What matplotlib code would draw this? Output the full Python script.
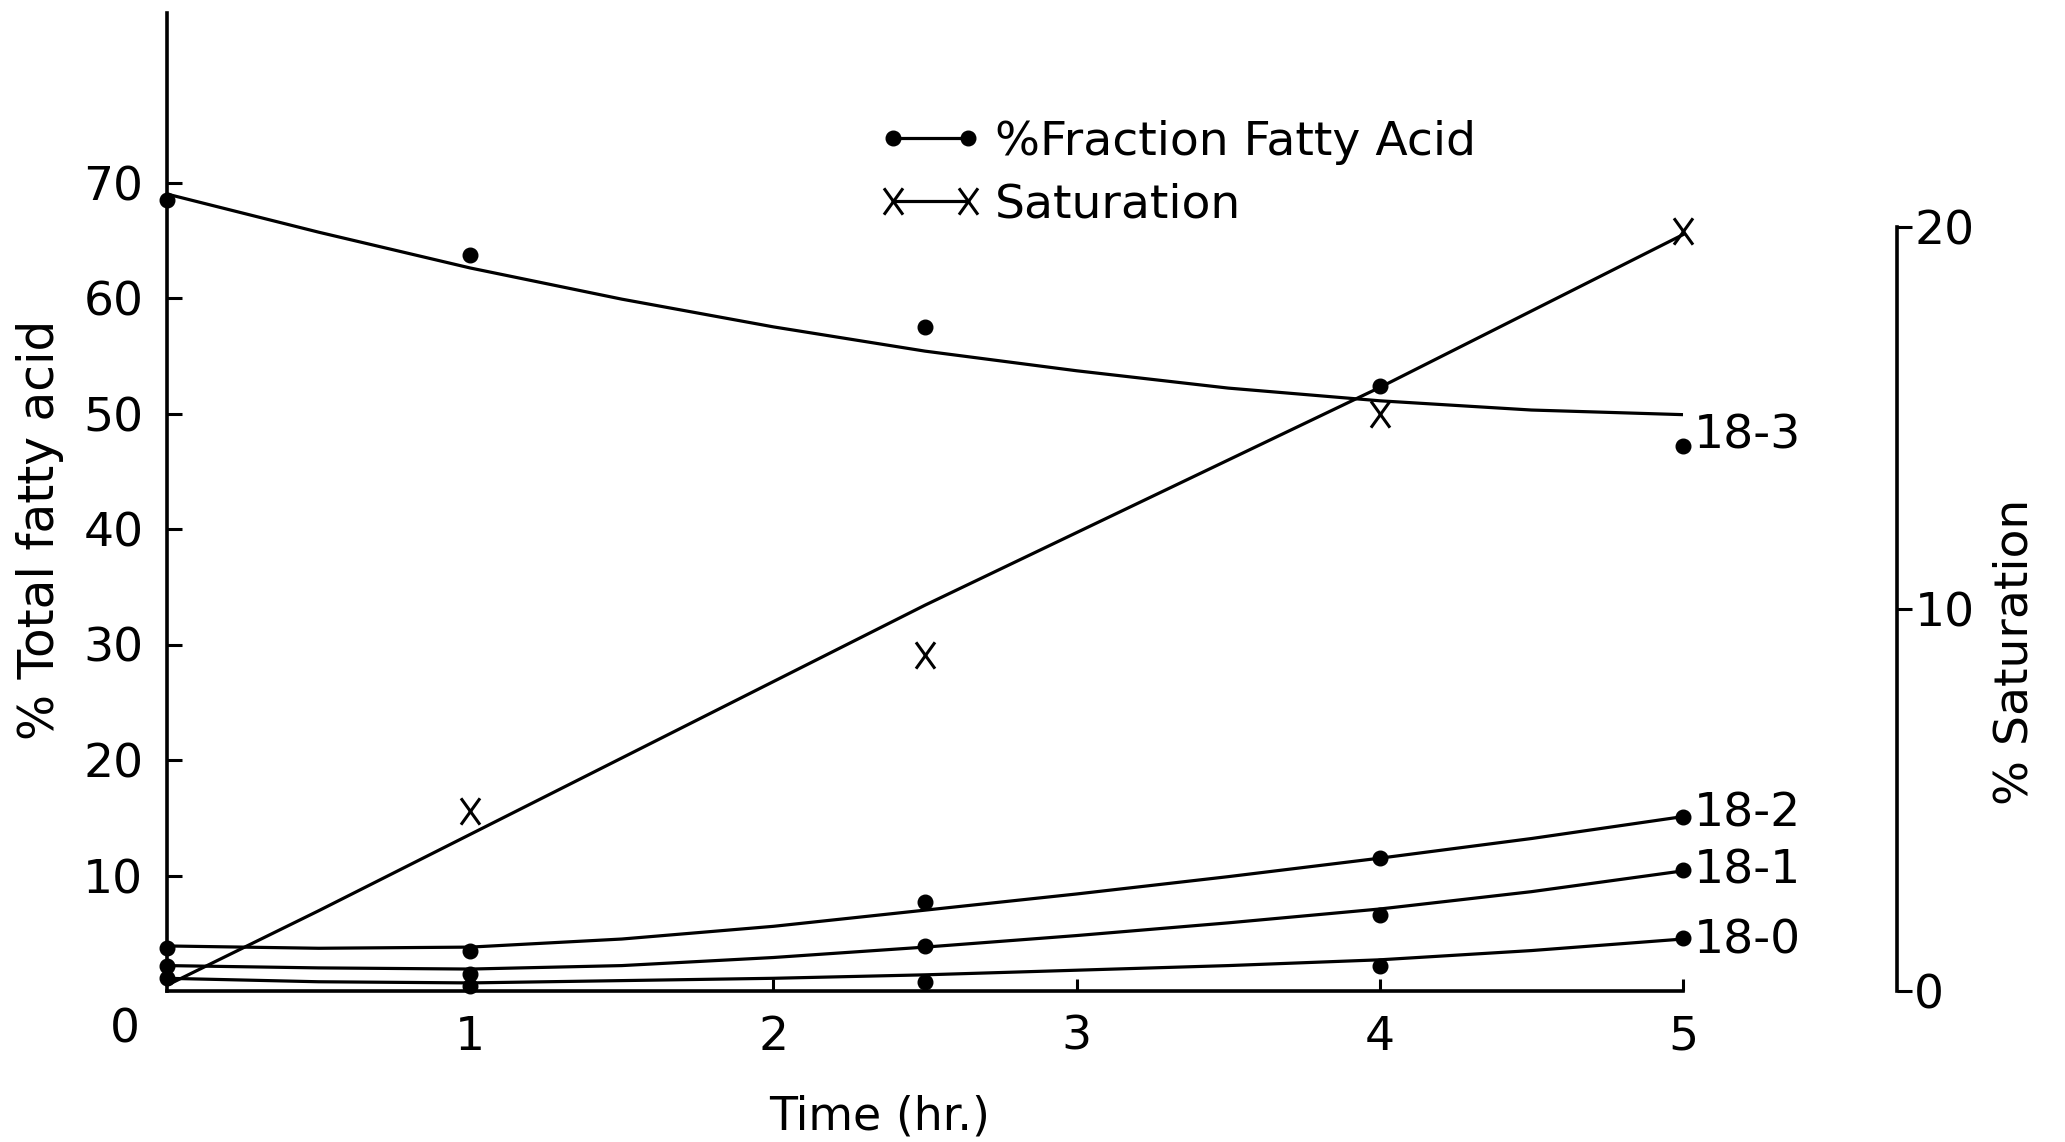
import matplotlib
matplotlib.use("Agg")
import matplotlib.pyplot as plt
from matplotlib.lines import Line2D
from matplotlib.path import Path

# Measured fatty acid fractions (% of total) at each sampling time (hr)
time_points = [0, 1, 2.5, 4, 5]
frac_183 = [68.5, 63.7, 57.5, 52.4, 47.2]
frac_182 = [3.7, 3.5, 7.7, 11.5, 15.1]
frac_181 = [2.2, 1.5, 3.9, 6.6, 10.5]
frac_180 = [1.1, 0.4, 0.8, 2.2, 4.6]

# Measured saturation (%)
sat_times = [1, 2.5, 4, 5]
saturation = [4.7, 8.8, 15.1, 19.9]

curve_times = [0, 0.5, 1, 1.5, 2, 2.5, 3, 3.5, 4, 4.5, 5]
curve_183 = [69.0, 65.7, 62.6, 59.9, 57.5, 55.4, 53.7, 52.2, 51.1, 50.3, 49.9]
curve_182 = [3.9, 3.7, 3.8, 4.5, 5.6, 7.0, 8.4, 9.9, 11.5, 13.2, 15.1]
curve_181 = [2.2, 2.0, 1.9, 2.2, 2.9, 3.8, 4.8, 5.9, 7.1, 8.6, 10.4]
curve_180 = [1.1, 0.8, 0.7, 0.9, 1.1, 1.4, 1.8, 2.2, 2.7, 3.5, 4.5]
curve_sat = [0.15, 2.1, 4.1, 6.1, 8.1, 10.1, 12.0, 13.9, 15.8, 17.8, 19.8]

series_labels = ["18-3", "18-2", "18-1", "18-0"]
x_ticks = [1, 2, 3, 4, 5]
left_ticks = [10, 20, 30, 40, 50, 60, 70]
right_ticks = [0, 10, 20]

plt.rcParams["font.family"] = "DejaVu Sans"
plt.rcParams["font.size"] = 34

W, H = 2065, 1142
fig = plt.figure(figsize=(W / 100, H / 100), dpi=100)
# axes box in pixels: left 167, right 1897, bottom 991, top 13
ax = fig.add_axes([167 / W, (H - 991) / H, (1897 - 167) / W, (991 - 13) / H])
ax2 = ax.twinx()

lw_curve = 2.3
lw_axis = 2.6

# fitted curves and measured points for each fraction
fractions = [frac_183, frac_182, frac_181, frac_180]
curves = [curve_183, curve_182, curve_181, curve_180]
for curve in curves:
    ax.plot(curve_times, curve, color="black", lw=lw_curve, solid_capstyle="butt",
            solid_joinstyle="round", clip_on=False)
for frac in fractions:
    ax.plot(time_points, frac, ls="none", marker="o", ms=10.5, color="black", clip_on=False)

# series names beside the last points
label_dy = [7, 2, -1, -2]
for frac, name, dy in zip(fractions, series_labels, label_dy):
    ax.annotate(name, xy=(time_points[-1], frac[-1]), xytext=(8, dy),
                textcoords="offset points", ha="left", va="center", fontsize=34)

# letter-like x marker (taller than wide)
x_path = Path([(-0.36, -0.5), (0.36, 0.5), (-0.36, 0.5), (0.36, -0.5)],
              [Path.MOVETO, Path.LINETO, Path.MOVETO, Path.LINETO])

ax2.plot(curve_times, curve_sat, color="black", lw=lw_curve, solid_joinstyle="round", clip_on=False)
ax2.plot(sat_times, saturation, ls="none", marker=x_path, ms=19, mew=2.2,
         color="black", fillstyle="none", clip_on=False)

# left axis
ax.set_xlim(0, (1897 - 167) / 303.2)
ax.set_ylim(0, (991 - 13) / 11.55)
ax.spines["top"].set_visible(False)
ax.spines["right"].set_visible(False)
ax.spines["bottom"].set_bounds(0, 5)
for s in ["left", "bottom"]:
    ax.spines[s].set_linewidth(lw_axis)
ax.set_xticks(x_ticks)
ax.set_xticklabels([str(t) for t in x_ticks])
ax.set_yticks(left_ticks)
ax.tick_params(axis="y", direction="in", length=10.5, width=2.2, pad=17, labelsize=34)
ax.tick_params(axis="x", direction="in", length=9, width=2.2, pad=17, labelsize=34)
ax.annotate("0", xy=(0, 0), xytext=(-30, -28), textcoords="offset points",
            ha="center", va="center", fontsize=34)

ax.set_xlabel("Time (hr.)", fontsize=33)
ax.xaxis.set_label_coords(0.412, -0.129)
ax.xaxis.label.set_verticalalignment("center")
ax.set_ylabel("% Total fatty acid", fontsize=35)
ax.yaxis.set_label_coords(-0.0734, 0.471)
ax.yaxis.label.set_verticalalignment("center")

# right axis for saturation
ax2.set_ylim(0, (991 - 13) / 38.2)
for s in ["top", "left", "bottom"]:
    ax2.spines[s].set_visible(False)
ax2.spines["right"].set_bounds(0, 20)
ax2.spines["right"].set_linewidth(lw_axis)
ax2.set_yticks(right_ticks)
ax2.tick_params(axis="y", direction="out", length=10.5, width=2.2, pad=2, labelsize=34)
ax2.set_ylabel("% Saturation", fontsize=34)
ax2.yaxis.set_label_coords(1.068, 0.347)
ax2.yaxis.label.set_verticalalignment("center")

# legend
handles = [
    Line2D([], [], color="black", lw=lw_curve, marker="o", ms=10.5),
    Line2D([], [], color="black", lw=lw_curve, marker=x_path, ms=19, mew=2.2, fillstyle="none"),
]
fig.legend(handles, ["%Fraction Fatty Acid", "Saturation"], loc="upper left",
           bbox_to_anchor=(879 / W, 1 - 120 / H), bbox_transform=fig.transFigure,
           frameon=False, numpoints=2, handlelength=2.19, handletextpad=0.27,
           borderpad=0, borderaxespad=0, labelspacing=0.37, fontsize=34)

fig.savefig("out.png", dpi=100, facecolor="white")
